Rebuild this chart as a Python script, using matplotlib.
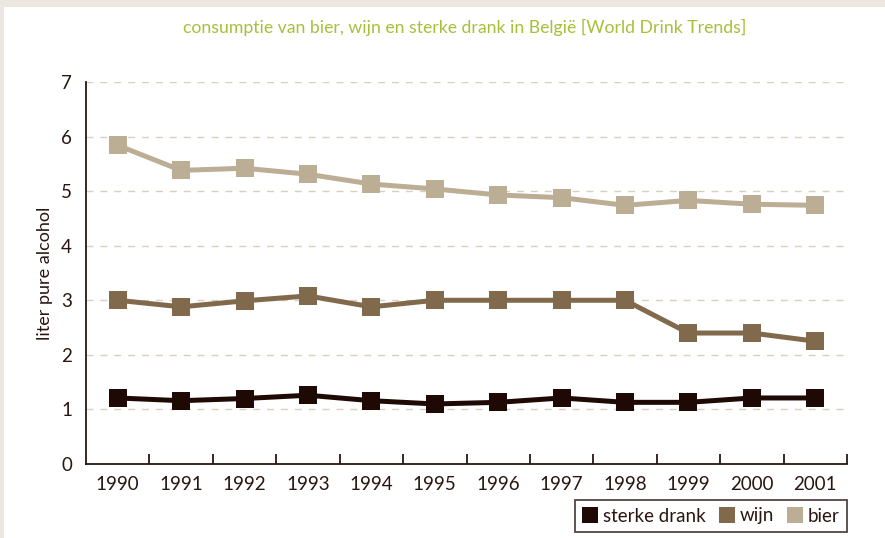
import matplotlib
matplotlib.use("Agg")
import matplotlib.pyplot as plt
from matplotlib.patches import Rectangle
from matplotlib.lines import Line2D
from matplotlib.ticker import FixedLocator

plt.rcParams['font.family'] = ['Lato', 'DejaVu Sans']

# data
jaren = ['1990', '1991', '1992', '1993', '1994', '1995',
         '1996', '1997', '1998', '1999', '2000', '2001']
bier = [5.84, 5.38, 5.42, 5.31, 5.13, 5.04, 4.93, 4.88, 4.74, 4.83, 4.76, 4.74]
wijn = [3.0, 2.88, 2.99, 3.08, 2.88, 3.0, 3.0, 3.0, 3.0, 2.4, 2.4, 2.25]
sterke_drank = [1.21, 1.16, 1.2, 1.26, 1.16, 1.1, 1.13, 1.21, 1.13, 1.13, 1.21, 1.21]

KLEUR_STERK = '#1e0904'
KLEUR_WIJN = '#806a4b'
KLEUR_BIER = '#bcad95'
KLEUR_TEKST = '#2a1610'
KLEUR_TITEL = '#a6c03a'
KLEUR_GRID = '#d8cfc1'

fig = plt.figure(figsize=(8.85, 5.38), dpi=100)
fig.patch.set_facecolor('#ece7e0')
fig.patches.append(Rectangle((4 / 885, 0), 1, 1 - 7 / 538, transform=fig.transFigure,
                             facecolor='white', edgecolor='none', zorder=-10))

ax = fig.add_axes([86 / 885, 74 / 538, 761 / 885, 382 / 538])
ax.set_facecolor('none')

x = list(range(len(jaren)))
for reeks, kleur in [(bier, KLEUR_BIER), (wijn, KLEUR_WIJN), (sterke_drank, KLEUR_STERK)]:
    ax.plot(x, reeks, color=kleur, lw=3.6, marker='s', markersize=12.5,
            markeredgewidth=0, solid_joinstyle='miter', zorder=3)

ax.set_xlim(-0.5, len(jaren) - 0.5)
ax.set_ylim(0, 7)
ax.set_yticks(range(0, 8))
ax.set_xticks(x)
ax.set_xticklabels(jaren)
ax.xaxis.set_minor_locator(FixedLocator([i + 0.5 for i in x]))
ax.tick_params(axis='x', which='major', length=0, pad=9, labelsize=13.5, labelcolor=KLEUR_TEKST)
ax.tick_params(axis='x', which='minor', length=7, width=1.3, color=KLEUR_TEKST, direction='in')
ax.tick_params(axis='y', length=0, pad=10, labelsize=13.5, labelcolor=KLEUR_TEKST)

for yv in range(1, 8):
    ax.axhline(yv, color=KLEUR_GRID, lw=1, dashes=(5, 5), zorder=1)

for s in ['top', 'right']:
    ax.spines[s].set_visible(False)
for s in ['left', 'bottom']:
    ax.spines[s].set_color(KLEUR_TEKST)
    ax.spines[s].set_linewidth(1.3)

ax.set_ylabel('liter pure alcohol', fontsize=13, color=KLEUR_TEKST, labelpad=6)

fig.text(465 / 885, 1 - 27 / 538, 'consumptie van bier, wijn en sterke drank in België [World Drink Trends]',
         ha='center', va='center', fontsize=12.7, color=KLEUR_TITEL)

handles = [Line2D([], [], ls='none', marker='s', markersize=12, markeredgewidth=0, color=c)
           for c in (KLEUR_STERK, KLEUR_WIJN, KLEUR_BIER)]
leg = fig.legend(handles, ['sterke drank', 'wijn', 'bier'], ncol=3,
                 loc='upper right', bbox_to_anchor=(847 / 885, 1 - 500 / 538),
                 borderaxespad=0, frameon=True, fancybox=False, fontsize=13.5,
                 handlelength=0.8, handletextpad=0.3, columnspacing=0.7,
                 borderpad=0.4, labelcolor=KLEUR_TEKST)
leg.get_frame().set_edgecolor(KLEUR_TEKST)
leg.get_frame().set_linewidth(1.3)

fig.savefig('out.png', dpi=100, facecolor=fig.get_facecolor())
